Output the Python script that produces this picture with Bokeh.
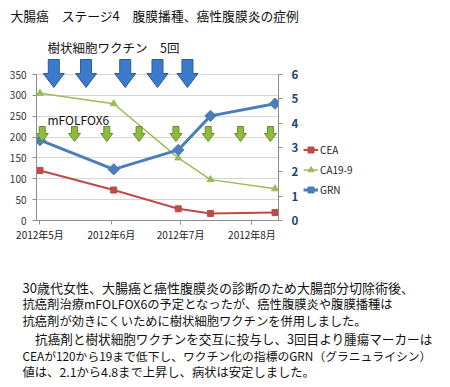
import numpy as np
from bokeh.plotting import figure
from bokeh.layouts import column, row
from bokeh.models import (Range1d, LinearAxis, FixedTicker, Label, Legend,
                          LegendItem)
from bokeh.embed import file_html
from bokeh.resources import INLINE

# ---------------- data ----------------
dates = ["2012-05-01", "2012-06-02", "2012-06-30", "2012-07-14", "2012-08-11"]
cea = [120, 73, 28, 17, 19]
ca199 = [305, 280, 150, 98, 76]
grn = [3.3, 2.1, 2.9, 4.3, 4.8]

vaccine_dates = ["2012-05-07", "2012-05-21", "2012-06-07", "2012-06-21", "2012-07-04"]
chemo_dates = ["2012-05-02", "2012-05-16", "2012-05-30", "2012-06-13",
               "2012-06-29", "2012-07-13", "2012-07-27", "2012-08-09"]

month_ticks = ["2012-05-01", "2012-06-01", "2012-07-01", "2012-08-01"]
month_labels = ["2012年5月", "2012年6月", "2012年7月", "2012年8月"]
left_ticks = [0, 50, 100, 150, 200, 250, 300, 350]
right_ticks = [0, 1, 2, 3, 4, 5, 6]
series_names = ["CEA", "CA19-9", "GRN"]

title_text = "大腸癌　ステージ4　腹膜播種、癌性腹膜炎の症例"
vaccine_text = "樹状細胞ワクチン　5回"
chemo_text = "mFOLFOX6"
paragraph = [
    "30歳代女性、大腸癌と癌性腹膜炎の診断のため大腸部分切除術後、",
    "抗癌剤治療mFOLFOX6の予定となったが、癌性腹膜炎や腹膜播種は",
    "抗癌剤が効きにくいために樹状細胞ワクチンを併用しました。",
    "　抗癌剤と樹状細胞ワクチンを交互に投与し、3回目より腫瘍マーカーは",
    "CEAが120から19まで低下し、ワクチン化の指標のGRN（グラニュライシン）",
    "値は、2.1から4.8まで上昇し、病状は安定しました。",
]


def ms(d):
    return float(np.datetime64(d, "ms").astype(np.int64))


x = [ms(d) for d in dates]
DAY = 86400000.0
x0 = ms("2012-05-01") - 1.5 * DAY
x1 = ms("2012-08-11") + 1.5 * DAY

FONT = "Noto Sans CJK JP"
W = 446
MAIN_W = 302
FRAME_L, FRAME_R = 36, 278          # page x of the two value axes
TOP, FRAME_T, FRAME_B, BOT = 30, 32, 220, 244   # page y of main figure
FRAME_W = FRAME_R - FRAME_L
FRAME_H = FRAME_B - FRAME_T
AX_H = 146.0                          # pixel height of 0..350
Y_TOP = 350 * FRAME_H / AX_H
Y2_TOP = 6 * FRAME_H / AX_H
RED, GREEN, BLUE = "#be4b48", "#9bbb59", "#4a7ebb"


def blank(w, h):
    f = figure(width=w, height=h, x_range=Range1d(0, w), y_range=Range1d(h, 0),
               x_axis_location=None, y_axis_location=None, min_border=0,
               output_backend="svg", toolbar_location=None)
    f.outline_line_color = None
    f.grid.visible = False
    return f


# ---------------- title strip ----------------
ft = blank(W, TOP)
ft.add_layout(Label(x=10, y=15, text=title_text, text_font=FONT,
                    text_font_size="12.8px", text_baseline="middle",
                    text_color="#111111"))

# ---------------- main chart ----------------
p = figure(width=MAIN_W, height=BOT - TOP, x_axis_type="datetime",
           x_range=Range1d(x0, x1), y_range=Range1d(0, Y_TOP),
           output_backend="svg", toolbar_location=None,
           min_border_left=FRAME_L, min_border_right=MAIN_W - FRAME_R,
           min_border_top=FRAME_T - TOP, min_border_bottom=BOT - FRAME_B)
p.outline_line_color = None
p.xgrid.visible = False
p.ygrid.ticker = FixedTicker(ticks=left_ticks)
p.ygrid.grid_line_color = "#d6d6d6"

ya = p.yaxis[0]
ya.ticker = FixedTicker(ticks=left_ticks)
ya.bounds = (0, 350)
ya.axis_line_color = "#8c8c8c"
ya.major_tick_line_color = "#8c8c8c"
ya.major_tick_out = 4
ya.major_tick_in = 0
ya.minor_tick_line_color = None
ya.major_label_standoff = 6
ya.major_label_text_font = FONT
ya.major_label_text_font_size = "10px"
ya.major_label_text_color = "#333333"

xa = p.xaxis[0]
xa.ticker = FixedTicker(ticks=[ms(d) for d in month_ticks])
xa.major_label_overrides = {int(ms(d)): lab for d, lab in zip(month_ticks, month_labels)}
xa.axis_line_color = "#8c8c8c"
xa.major_tick_line_color = "#8c8c8c"
xa.major_tick_out = 4
xa.major_tick_in = 0
xa.minor_tick_line_color = None
xa.major_label_standoff = 2
xa.major_label_text_font = FONT
xa.major_label_text_font_size = "10px"
xa.major_label_text_color = "#222222"

p.extra_y_ranges = {"grn": Range1d(0, Y2_TOP)}
ra = LinearAxis(y_range_name="grn", ticker=FixedTicker(ticks=right_ticks), bounds=(0, 6))
ra.axis_line_color = "#8c8c8c"
ra.major_tick_line_color = "#8c8c8c"
ra.major_tick_out = 4
ra.major_tick_in = 0
ra.minor_tick_line_color = None
ra.major_label_standoff = 9
ra.major_label_text_font = FONT
ra.major_label_text_font_size = "11.5px"
ra.major_label_text_font_style = "bold"
ra.major_label_text_color = "#243f6e"
p.add_layout(ra, "right")

p.line(x, cea, line_color=RED, line_width=2)
p.scatter(x, cea, marker="square", size=6, fill_color=RED, line_color=RED)
p.line(x, ca199, line_color=GREEN, line_width=1.5)
p.scatter(x, ca199, marker="triangle", size=7, fill_color=GREEN, line_color=GREEN)
p.line(x, grn, line_color=BLUE, line_width=3, y_range_name="grn")
p.scatter(x, grn, marker="square", angle=np.pi / 4, size=8,
          fill_color=BLUE, line_color=BLUE, y_range_name="grn")

PX = (x1 - x0) / FRAME_W


def px_y(page_y):
    return (FRAME_B - page_y) * 350 / AX_H


def arrows(dlist, sw, hw, top, base, tip):
    xs, ys = [], []
    for d in dlist:
        c = ms(d)
        xs.append([c - sw * PX, c + sw * PX, c + sw * PX, c + hw * PX, c,
                   c - hw * PX, c - sw * PX])
        ys.append([top, top, base, base, tip, base, base])
    return xs, ys


bxs, bys = arrows(vaccine_dates, 5.5, 10.5, px_y(59), px_y(73), px_y(87))
p.patches(bxs, bys, fill_color="#3c7bcc", line_color="#285a9c", line_width=1)
gxs, gys = arrows(chemo_dates, 3, 6, px_y(126), px_y(133), px_y(141))
p.patches(gxs, gys, fill_color="#8fbb3c", line_color="#6b8e23", line_width=1)


def frame_label(text, px, py, size):
    p.add_layout(Label(x=px - FRAME_L, y=FRAME_B - py, x_units="screen",
                       y_units="screen", text=text, text_font=FONT,
                       text_font_size=size, text_baseline="middle",
                       text_color="#111111"))


frame_label(vaccine_text, 47, 47, "12.5px")
frame_label(chemo_text, 47, 119, "12px")

# ---------------- legend panel (frame is aligned with the chart frame) ----------------
LW = W - MAIN_W
fl = figure(width=LW, height=BOT - TOP, x_range=Range1d(0, 1), y_range=Range1d(0, 1),
            x_axis_location=None, y_axis_location=None, min_border=0,
            output_backend="svg", toolbar_location=None)
fl.outline_line_color = None
fl.grid.visible = False
OFF = [-5, -6]   # keys drawn off-range so that only the legend shows them
r1 = [fl.line(OFF, OFF, line_color=RED, line_width=2),
      fl.scatter(OFF, OFF, marker="square", size=6, fill_color=RED, line_color=RED)]
r2 = [fl.line(OFF, OFF, line_color=GREEN, line_width=1.5),
      fl.scatter(OFF, OFF, marker="triangle", size=7, fill_color=GREEN, line_color=GREEN)]
r3 = [fl.line(OFF, OFF, line_color=BLUE, line_width=3),
      fl.scatter(OFF, OFF, marker="square", angle=np.pi / 4, size=8,
                 fill_color=BLUE, line_color=BLUE)]
legend = Legend(items=[LegendItem(label=n, renderers=r)
                       for n, r in zip(series_names, [r1, r2, r3])],
                location=(303 - MAIN_W, FRAME_B - 198),
                padding=0, margin=0,
                border_line_color=None, background_fill_alpha=0,
                glyph_width=15, glyph_height=17, label_height=17,
                spacing=3, label_standoff=2,
                label_text_font=FONT, label_text_font_size="10px",
                label_text_color="#222222")
fl.add_layout(legend)

# ---------------- paragraph ----------------
PH = 385 - BOT
fp = blank(W, PH)
line_y = [286.7, 303.5, 320.5, 337.5, 354.5, 371.5]
line_size = ["13px", "12.3px", "12.3px", "12.6px", "11.8px", "12.3px"]
for t, yy, sz in zip(paragraph, line_y, line_size):
    fp.add_layout(Label(x=22, y=yy - BOT, text=t, text_font=FONT,
                        text_font_size=sz, text_baseline="middle",
                        text_color="#111111"))

layout = column(ft, row(p, fl, spacing=0), fp, spacing=0)
open("out.html", "w").write(file_html(layout, INLINE))
